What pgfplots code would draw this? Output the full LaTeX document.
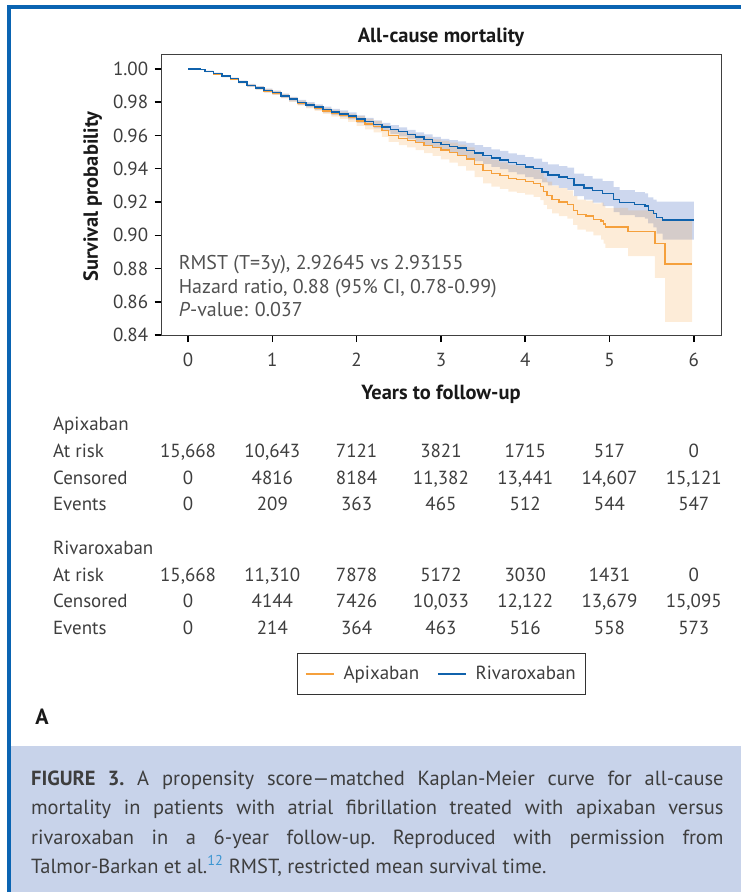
\documentclass[border=0pt]{standalone}
\usepackage{fontspec}
\setmainfont{PT Sans}
\usepackage{pgfplots}
\usepackage{pgfplotstable}
\pgfplotsset{compat=1.18}
\usepgfplotslibrary{fillbetween}

\definecolor{orgline}{RGB}{245,160,60}
\definecolor{bluline}{RGB}{16,98,172}
\definecolor{bluband}{RGB}{205,215,238}
\definecolor{frameblue}{RGB}{10,100,178}
\definecolor{capbg}{RGB}{200,211,234}
\definecolor{txt}{RGB}{62,62,62}
\definecolor{supblue}{RGB}{60,150,210}

\pgfplotstableread{
x y lo hi
0.00 1.0000 0.9999 1.0001
0.15 0.9995 0.9993 0.9997
0.20 0.9985 0.9981 0.9989
0.30 0.9972 0.9967 0.9977
0.40 0.9957 0.9951 0.9963
0.50 0.9941 0.9934 0.9948
0.60 0.9922 0.9914 0.9930
0.70 0.9901 0.9892 0.9910
0.80 0.9886 0.9876 0.9896
0.90 0.9870 0.9859 0.9881
1.00 0.9857 0.9845 0.9869
1.10 0.9838 0.9825 0.9851
1.20 0.9818 0.9804 0.9832
1.30 0.9798 0.9783 0.9813
1.40 0.9784 0.9768 0.9800
1.50 0.9770 0.9753 0.9787
1.60 0.9755 0.9737 0.9773
1.70 0.9741 0.9722 0.9760
1.80 0.9730 0.9710 0.9750
1.90 0.9717 0.9696 0.9738
2.00 0.9698 0.9676 0.9720
2.10 0.9682 0.9659 0.9705
2.20 0.9667 0.9643 0.9691
2.30 0.9651 0.9626 0.9676
2.40 0.9636 0.9610 0.9662
2.50 0.9622 0.9595 0.9649
2.60 0.9606 0.9578 0.9634
2.70 0.9590 0.9561 0.9619
2.80 0.9575 0.9544 0.9606
2.90 0.9558 0.9525 0.9591
3.00 0.9544 0.9508 0.9580
3.10 0.9534 0.9496 0.9572
3.20 0.9524 0.9484 0.9564
3.30 0.9510 0.9465 0.9555
3.40 0.9494 0.9446 0.9542
3.50 0.9480 0.9430 0.9530
3.60 0.9464 0.9411 0.9517
3.70 0.9452 0.9397 0.9507
3.80 0.9436 0.9379 0.9493
3.90 0.9425 0.9366 0.9484
4.00 0.9410 0.9350 0.9470
4.10 0.9400 0.9339 0.9461
4.20 0.9380 0.9318 0.9442
4.27 0.9363 0.9300 0.9426
4.40 0.9350 0.9285 0.9415
4.50 0.9340 0.9273 0.9407
4.58 0.9303 0.9235 0.9371
4.70 0.9285 0.9215 0.9355
4.80 0.9268 0.9196 0.9340
4.92 0.9250 0.9175 0.9325
5.05 0.9215 0.9140 0.9290
5.12 0.9196 0.9121 0.9271
5.30 0.9185 0.9110 0.9260
5.42 0.9176 0.9100 0.9252
5.46 0.9150 0.9072 0.9228
5.52 0.9130 0.9048 0.9214
5.56 0.9106 0.9010 0.9203
5.63 0.9091 0.8975 0.9202
6.00 0.9091 0.8975 0.9202
}\riva

\pgfplotstableread{
x y lo hi
0.00 1.0000 0.9999 1.0001
0.15 0.9995 0.9993 0.9997
0.20 0.9984 0.9980 0.9988
0.30 0.9970 0.9965 0.9975
0.40 0.9955 0.9949 0.9961
0.50 0.9939 0.9932 0.9946
0.60 0.9920 0.9912 0.9928
0.70 0.9899 0.9890 0.9908
0.80 0.9884 0.9874 0.9894
0.90 0.9868 0.9857 0.9879
1.00 0.9855 0.9843 0.9867
1.10 0.9836 0.9823 0.9849
1.20 0.9815 0.9801 0.9829
1.30 0.9794 0.9779 0.9809
1.40 0.9779 0.9763 0.9795
1.50 0.9764 0.9747 0.9781
1.60 0.9748 0.9730 0.9766
1.70 0.9733 0.9713 0.9753
1.80 0.9721 0.9699 0.9743
1.90 0.9706 0.9682 0.9730
2.00 0.9687 0.9657 0.9717
2.10 0.9668 0.9636 0.9700
2.20 0.9652 0.9618 0.9686
2.30 0.9628 0.9592 0.9664
2.38 0.9600 0.9562 0.9638
2.50 0.9582 0.9542 0.9622
2.60 0.9570 0.9528 0.9612
2.70 0.9556 0.9512 0.9600
2.80 0.9541 0.9494 0.9588
2.90 0.9527 0.9477 0.9577
3.00 0.9512 0.9457 0.9567
3.10 0.9497 0.9437 0.9557
3.20 0.9480 0.9415 0.9545
3.30 0.9458 0.9388 0.9528
3.40 0.9425 0.9350 0.9500
3.50 0.9390 0.9312 0.9468
3.60 0.9372 0.9292 0.9452
3.70 0.9359 0.9279 0.9439
3.80 0.9343 0.9263 0.9423
3.90 0.9335 0.9255 0.9415
4.00 0.9325 0.9245 0.9405
4.10 0.9312 0.9231 0.9393
4.18 0.9293 0.9211 0.9375
4.22 0.9265 0.9183 0.9347
4.26 0.9240 0.9157 0.9323
4.32 0.9215 0.9132 0.9298
4.40 0.9200 0.9116 0.9284
4.50 0.9185 0.9100 0.9270
4.57 0.9150 0.9063 0.9237
4.62 0.9125 0.9035 0.9215
4.72 0.9115 0.9022 0.9208
4.81 0.9096 0.9000 0.9192
4.90 0.9087 0.8975 0.9196
4.93 0.9067 0.8950 0.9180
4.95 0.9050 0.8925 0.9165
5.22 0.9023 0.8875 0.9150
5.54 0.8950 0.8745 0.9100
5.66 0.8829 0.8480 0.9087
5.98 0.8829 0.8480 0.9087
}\apix

\newcommand{\tabrow}[2]{\foreach \v [count=\i from 0] in {#2} {\node[anchor=base, inner sep=0pt, text=txt, font=\fontsize{19}{19}\selectfont] at ({188.5+84.47*\i},#1) {\v};}}
\newcommand{\tablab}[2]{\node[anchor=base west, inner sep=0pt, text=txt, font=\fontsize{19}{19}\selectfont] at (53,#1) {#2};}

\begin{document}
\begin{tikzpicture}[x=1pt,y=1pt]
% caption background and frame
\fill[capbg] (11,0) rectangle (743,146);
\draw[frameblue, line width=4pt] (9,0) -- (9,887) -- (743,887);

\begin{axis}[
  at={(162pt,558pt)}, anchor=south west,
  width=561pt, height=281pt, scale only axis,
  xmin=-0.314, xmax=6.328, ymin=0.84, ymax=1.0084,
  xtick={0,1,2,3,4,5,6},
  ytick={0.84,0.86,0.88,0.90,0.92,0.94,0.96,0.98,1.00},
  yticklabel style={xshift=-3pt, /pgf/number format/.cd, fixed, fixed zerofill, precision=2},
  /pgf/number format/assume math mode=true,
  tick label style={font=\fontsize{19}{19}\selectfont, text=txt},
  xticklabel style={yshift=-7pt},
  xtick pos=left, ytick pos=left,
  tick align=outside,
  major tick length=7pt,
  tick style={black, line width=1.5pt},
  axis line style={draw=black!75, line width=1pt},
  legend columns=2,
  legend style={at={(0.5,-1.208)}, anchor=center, draw=black!80, line width=0.8pt,
    font=\fontsize{19}{19}\selectfont, text=txt, inner xsep=8pt, inner ysep=11pt,
    /tikz/every odd column/.append style={column sep=7pt},
    /tikz/every even column/.append style={column sep=16pt}},
  legend image code/.code={\draw[#1, line width=1.5pt] (0pt,0pt) -- (28pt,0pt);},
]
\addplot[const plot, draw=none, name path=bu, forget plot] table[x=x,y=hi]{\riva};
\addplot[const plot, draw=none, name path=bl, forget plot] table[x=x,y=lo]{\riva};
\addplot[fill=bluband, draw=none, forget plot] fill between[of=bu and bl];
\addplot[const plot, draw=none, name path=ou, forget plot] table[x=x,y=hi]{\apix};
\addplot[const plot, draw=none, name path=ol, forget plot] table[x=x,y=lo]{\apix};
\addplot[fill=orgline, fill opacity=0.2, draw=none, forget plot] fill between[of=ou and ol];
\addplot[const plot, orgline, line width=1.4pt] table[x=x,y=y]{\apix};
\addlegendentry{Apixaban}
\addplot[const plot, bluline, line width=1.4pt] table[x=x,y=y]{\riva};
\addlegendentry{Rivaroxaban}
\end{axis}

% titles and labels
\node[anchor=base, font=\bfseries\fontsize{20.5}{20.5}\selectfont, text=black!90] at (442,851) {All-cause mortality};
\node[anchor=base, font=\bfseries\fontsize{20.5}{20.5}\selectfont, text=black!90] at (442,494) {Years to follow-up};
\node[rotate=90, font=\bfseries\fontsize{20.5}{20.5}\selectfont, text=black!90] at (93,697) {Survival probability};

% annotation
\node[anchor=base west, inner sep=0pt, text=txt!90, font=\fontsize{20}{20}\selectfont] at (179,624) {RMST (T=3y), 2.92645 vs 2.93155};
\node[anchor=base west, inner sep=0pt, text=txt!90, font=\fontsize{20}{20}\selectfont] at (179,600) {Hazard ratio, 0.88 (95\% CI, 0.78-0.99)};
\node[anchor=base west, inner sep=0pt, text=txt!90, font=\fontsize{20}{20}\selectfont] at (179,577) {\textit{P}-value: 0.037};

% risk table
\tablab{462.5}{Apixaban}
\tablab{435.5}{At risk}
\tablab{408.5}{Censored}
\tablab{382.5}{Events}
\tabrow{435.5}{{15,668},{10,643},7121,3821,1715,517,0}
\tabrow{408.5}{0,4816,8184,{11,382},{13,441},{14,607},{15,121}}
\tabrow{382.5}{0,209,363,465,512,544,547}
\tablab{338.5}{Rivaroxaban}
\tablab{311.5}{At risk}
\tablab{285.5}{Censored}
\tablab{258.5}{Events}
\tabrow{311.5}{{15,668},{11,310},7878,5172,3030,1431,0}
\tabrow{285.5}{0,4144,7426,{10,033},{12,122},{13,679},{15,095}}
\tabrow{258.5}{0,214,364,463,516,558,573}

% panel letter
\node[anchor=base, font=\bfseries\fontsize{22}{22}\selectfont, text=black!90] at (42,168) {A};

% caption
\node[anchor=base west, inner sep=0pt, text width=694pt, align=justify, text=txt,
  font=\fontsize{20.5}{29.3}\selectfont\frenchspacing] at (31,106.5)
  {\textbf{FIGURE 3.} A propensity score—matched Kaplan-Meier curve for all-cause\linebreak
   mortality in patients with atrial fibrillation treated with apixaban versus\linebreak
   rivaroxaban in a 6-year follow-up. Reproduced with permission from\linebreak
   Talmor-Barkan et al.\textsuperscript{\textcolor{supblue}{12}} RMST, restricted mean survival time.};
\path (0,0) rectangle (743,894);
\end{tikzpicture}
\end{document}
